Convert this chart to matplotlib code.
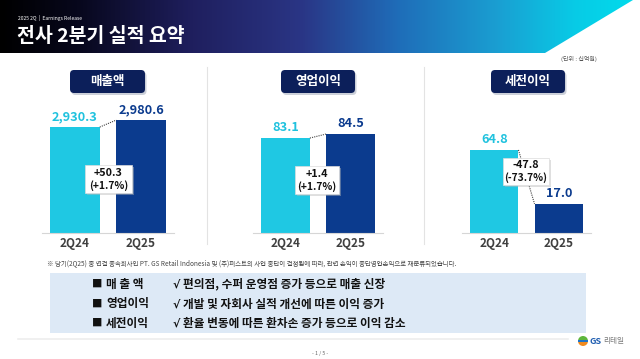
import matplotlib
matplotlib.use('Agg')
import matplotlib.pyplot as plt
import numpy as np
from matplotlib.patches import FancyBboxPatch, Polygon, Rectangle, Wedge
from matplotlib.colors import LinearSegmentedColormap

plt.rcParams['font.family'] = ['Noto Sans CJK KR', 'DejaVu Sans']

# ---------------- data ----------------
periods = ['2Q24', '2Q25']
metrics = ['매출액', '영업이익', '세전이익']
revenue = [2930.3, 2980.6]
op_income = [83.1, 84.5]
pretax_income = [64.8, 17.0]
change_abs = ['+50.3', '+1.4', '-47.8']
change_pct = ['(+1.7%)', '(+1.7%)', '(-73.7%)']
row_labels = ['매 출 액', '영업이익', '세전이익']
row_texts = ['편의점, 수퍼 운영점 증가 등으로 매출 신장',
             '개발 및 자회사 실적 개선에 따른 이익 증가',
             '환율 변동에 따른 환차손 증가 등으로 이익 감소']
title = '전사 2분기 실적 요약'
subtitle = '2025 2Q  |  Earnings Release'
unit_text = '(단위 : 십억원)'
footnote = ('※ 당기(2Q25) 중 연결 종속회사인 PT. GS Retail Indonesia 및 (주)퍼스트의 사업 중단이 결정됨에 따라, '
            '관련 손익이 중단영업손익으로 재분류되었습니다.')

series = [revenue, op_income, pretax_income]

# ---------------- style ----------------
W, H = 640, 359
CYAN = '#1fc8e3'
NAVY = '#0b3b8e'
DARK = '#0c1f5a'

fig = plt.figure(figsize=(W / 100, H / 100), dpi=100)
fig.patch.set_facecolor('white')

# canvas axes in pixel units
cv = fig.add_axes([0, 0, 1, 1], zorder=0)
cv.set_xlim(0, W)
cv.set_ylim(H, 0)
cv.axis('off')

# header gradient band
stops = [(0.0, '#000000'), (0.12, '#07071c'), (0.3, '#1f1f5e'), (0.47, '#2a3585'),
         (0.62, '#1f6cb8'), (0.78, '#1a9fd2'), (0.9, '#08cbe6'), (1.0, '#00dcec')]
cmap = LinearSegmentedColormap.from_list('hdr', stops)
grad = np.linspace(0, 1, 512).reshape(1, -1)
im = cv.imshow(grad, extent=(0, W, 53, 0), aspect='auto', cmap=cmap, zorder=1)
poly = Polygon([(0, 0), (633, 0), (545, 53), (0, 53)], closed=True, transform=cv.transData,
               facecolor='none', edgecolor='none')
cv.add_patch(poly)
im.set_clip_path(poly)
cv.set_xlim(0, W)
cv.set_ylim(H, 0)

cv.text(18, 18, subtitle, color='white', fontsize=3.6, va='center', ha='left')
cv.text(17, 37, title, color='white', fontsize=14, fontweight='bold', va='center', ha='left')
cv.text(597, 59, unit_text, color='#555555', fontsize=4.3, va='center', ha='right')

# separators
for sx in [207, 424]:
    cv.plot([sx, sx], [67, 244], color='#e3e3e3', lw=0.8, zorder=1)

# label boxes
label_boxes = [(70, 70, 75, 23), (281, 70, 74, 23), (491, 70, 74, 23)]
for (bx, by, bw, bh), name in zip(label_boxes, metrics):
    sh = FancyBboxPatch((bx + 1.5, by + 2), bw, bh, boxstyle='round,pad=0,rounding_size=4',
                        fc='#9aa3b5', ec='none', alpha=0.5, zorder=2)
    cv.add_patch(sh)
    bb = FancyBboxPatch((bx, by), bw, bh, boxstyle='round,pad=0,rounding_size=4',
                        fc=DARK, ec='none', zorder=3)
    cv.add_patch(bb)
    cv.text(bx + bw / 2, by + bh / 2 - 0.5, name, color='white', fontsize=9, fontweight='bold',
            ha='center', va='center', zorder=4)

# ---------------- bar panels ----------------
panel_px = [(42, 174), (253, 383), (462, 591)]
panel_ylim = [(2168, 3125), (49.9, 96.4), (-8.7, 109.0)]
ax_top, ax_bot = 100, 233
bar_w = 0.75
x = np.arange(len(periods))
axes = []
for (l, r), (ylo, yhi), vals in zip(panel_px, panel_ylim, series):
    ax = fig.add_axes([l / W, 1 - ax_bot / H, (r - l) / W, (ax_bot - ax_top) / H], zorder=2)
    ax.patch.set_alpha(0)
    ax.set_xlim(-0.5, 1.5)
    ax.set_ylim(ylo, yhi)
    heights = [v - ylo for v in vals]
    ax.bar(x, heights, width=bar_w, bottom=ylo, color=[CYAN, NAVY], zorder=2)
    ax.plot([x[0] + bar_w / 2, x[1] - bar_w / 2], [vals[0], vals[1]], ls=(0, (1, 1)),
            color='#444444', lw=0.8, zorder=3)
    for xi, v, c in zip(x, vals, ['#20c2de', NAVY]):
        ax.annotate(f'{v:,.1f}', (xi, v), xytext=(0, 3), textcoords='offset points',
                    ha='center', va='bottom', fontsize=9.2, fontweight='bold', color=c)
    for s in ['top', 'right', 'left']:
        ax.spines[s].set_visible(False)
    ax.spines['bottom'].set_color('#d6d6d6')
    ax.spines['bottom'].set_linewidth(0.8)
    ax.set_yticks([])
    ax.set_xticks(x)
    ax.set_xticklabels(periods, fontsize=8.5, fontweight='bold', color='#404040')
    ax.tick_params(axis='x', length=0, pad=3)
    axes.append(ax)

# overlay for change boxes
ov = fig.add_axes([0, 0, 1, 1], zorder=5)
ov.set_xlim(0, W)
ov.set_ylim(H, 0)
ov.axis('off')
ov.patch.set_alpha(0)
change_boxes = [(85, 165, 47, 28), (295, 166, 44, 28), (503, 158, 46, 27)]
for (bx, by, bw, bh), a, p in zip(change_boxes, change_abs, change_pct):
    ov.add_patch(Rectangle((bx + 1.5, by + 1.5), bw, bh, fc='#b8b8b8', ec='none', alpha=0.45))
    ov.add_patch(Rectangle((bx, by), bw, bh, fc='white', ec='#dcdcdc', lw=0.5))
    cx, cy = bx + bw / 2, by + bh / 2
    ov.text(cx, cy - 6, a, ha='center', va='center', fontsize=7.8, fontweight='bold', color='#111111')
    ov.text(cx, cy + 6.5, p, ha='center', va='center', fontsize=7.4, fontweight='bold', color='#111111')

# footnote
ov.text(47, 263, footnote, fontsize=4.65, color='#444444', ha='left', va='center')

# summary box
ov.add_patch(Rectangle((50, 273), 536, 60, fc='#dde9f6', ec='none'))
row_y = [284, 304, 323]
for yy, lab, txt in zip(row_y, row_labels, row_texts):
    ov.text(92, yy, '■', fontsize=7.5, ha='left', va='center', color='#111111')
    ov.text(106, yy, lab, fontsize=8.4, fontweight='bold', ha='left', va='center', color='#111111')
    ov.text(173, yy + 0.5, '√', fontsize=8, fontweight='bold', ha='left', va='center',
            color='#111111', family=['DejaVu Sans'])
    ov.text(183, yy, txt, fontsize=8.4, fontweight='bold', ha='left', va='center', color='#111111')

# bottom rule, logo, page
ov.plot([18, 568], [339, 339], color='#eeeeee', lw=1.2)
ov.add_patch(Wedge((583, 341), 5, 0, 180, fc='#f08a1e', ec='none'))
ov.add_patch(Wedge((583, 341), 5, 180, 360, fc='#5db63b', ec='none'))
ov.add_patch(Rectangle((578, 340), 10, 1.6, fc='#1d74c9', ec='none'))
ov.text(590, 341, 'GS', fontsize=6.5, fontweight='bold', color='#1d5cb0', ha='left', va='center')
ov.text(603, 341, '리테일', fontsize=5.5, color='#7a7a7a', ha='left', va='center')
ov.text(320, 353, '- 1 / 5 -', fontsize=3.8, color='#666666', ha='center', va='center')

fig.savefig('out.png', dpi=100, facecolor='white')
